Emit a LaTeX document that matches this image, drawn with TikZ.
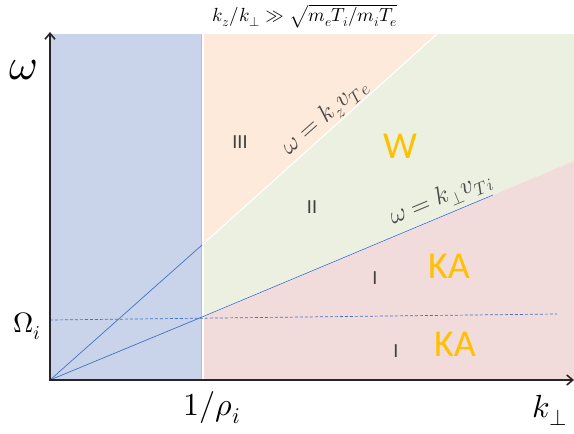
\documentclass[tikz,border=0pt]{standalone}
\usepackage{amsmath}
\usepackage{fontspec}
\usepackage{unicode-math}
\setmathfont{Latin Modern Math}
\newfontfamily\regfont{Carlito}
\usetikzlibrary{arrows.meta}

\definecolor{lowblue}{HTML}{C9D3E9}
\definecolor{regorange}{HTML}{FDEADA}
\definecolor{reggreen}{HTML}{EBF0E0}
\definecolor{regpink}{HTML}{F2DCDB}
\definecolor{guideblue}{HTML}{4472C4}
\definecolor{waveyellow}{HTML}{FFC000}
\definecolor{axisgray}{HTML}{262626}

\begin{document}
\begin{tikzpicture}[x=1pt,y=-1pt,font=\normalsize,
  axis/.style={line width=2.4pt,draw=axisgray,-{Straight Barb[length=6pt,width=10pt,line width=1.6pt]}},
  guide/.style={draw=guideblue,line width=0.7pt},
  regionlab/.style={font=\regfont\fontsize{20}{20}\selectfont,text=black!75},
  wavelab/.style={font=\regfont\fontsize{38}{38}\selectfont,text=waveyellow},
  linelab/.style={font=\fontsize{25}{25}\selectfont,text=black!70}]
  \useasboundingbox (0,0) rectangle (574,434);
  \def\xr{202}  % k_perp = 1/rho_i
  \def\yt{34}   % top of the shaded areas

  % ================= shaded regions =================
  \coordinate (O) at (50,380);
  \coordinate (R) at (\xr,380);
  \coordinate (A) at (\xr,245);   % upper line at 1/rho_i
  \coordinate (B) at (437,\yt);   % upper line at top
  \coordinate (C) at (\xr,317);   % lower line at 1/rho_i
  \coordinate (D) at (574,161);   % lower line at right edge
  \coordinate (E) at (493,195);   % end of the drawn lower line

  \fill[lowblue] (50,\yt) rectangle (R);
  \fill[regorange] (\xr,\yt) -- (B) -- (A) -- cycle;
  \fill[reggreen] (B) -- (574,\yt) -- (D) -- (C) -- (A) -- cycle;
  \fill[regpink] (C) -- (D) -- (574,380) -- (R) -- cycle;

  % white seams
  \draw[white,line width=1.2pt] (A) -- (B);
  \draw[white,line width=1.2pt] (C) -- (E);
  \draw[white,line width=1.2pt] (\xr+1,\yt) -- (\xr+1,380);
  \draw[guideblue!45,line width=0.8pt] (\xr-1,\yt) -- (\xr-1,380);

  % ================= guide lines =================
  \draw[guide] (O) -- (A);
  \draw[guide] (O) -- (C) -- (E);
  \coordinate (Wl) at (50,320);
  \coordinate (Wr) at (557,314);
  \draw[guide,dashed,dash pattern=on 3pt off 2pt] (Wl) -- (Wr);

  % ================= axes =================
  \draw[axis] (50,381.2) -- (50,32);
  \draw[axis] (48.8,380) -- (574,380);

  % axis labels
  \node (om) at (23,70) {\fontsize{44}{44}\selectfont$\omega$};
  \node (omi) at (27,326) {\fontsize{28}{28}\selectfont$\Omega_i$};
  \node (rho) at (212,408) {\fontsize{32}{32}\selectfont$1/\rho_i$};
  \node (kp) at (550,410) {\fontsize{32}{32}\selectfont$k_\perp$};
  \node (cond) at (305,16) {\fontsize{19}{19}\selectfont$k_z/k_\perp \gg \sqrt{m_e T_i/m_i T_e}$};

  % dispersion lines
  \node[linelab,rotate=41.6] (lte) at (325,117) {$\omega = k_z v_{Te}$};
  \node[linelab,rotate=22.7] (lti) at (441,199) {$\omega = k_\perp v_{Ti}$};

  % region numbers and wave types
  \node[regionlab] (r3) at (240,142) {III};
  \node[regionlab] (r2) at (312,207) {II};
  \node[regionlab] (r1a) at (375,278) {I};
  \node[regionlab] (r1b) at (396,351) {I};
  \node[wavelab] (w) at (400,146) {W};
  \node[wavelab] (ka1) at (449,266) {KA};
  \node[wavelab] (ka2) at (455,344) {KA};
\end{tikzpicture}
\end{document}
